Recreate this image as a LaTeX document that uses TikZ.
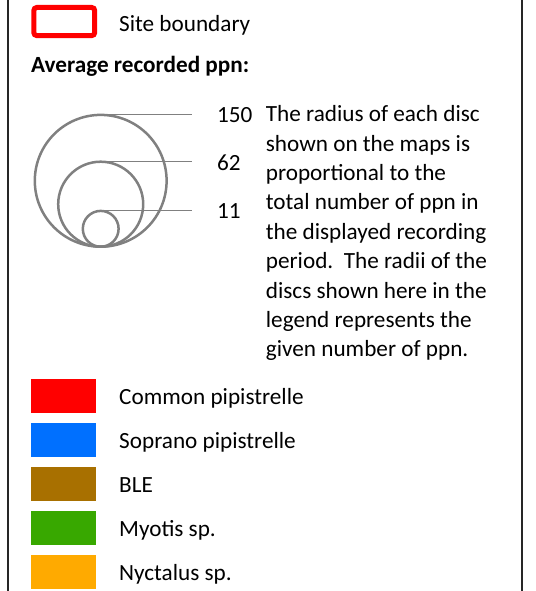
\documentclass[tikz,border=0pt]{standalone}
\usepackage{fontspec}
\setmainfont{Carlito}
\definecolor{spred}{RGB}{255,0,0}
\definecolor{spblue}{RGB}{0,112,255}
\definecolor{spbrown}{RGB}{168,112,0}
\definecolor{spgreen}{RGB}{56,168,0}
\definecolor{sporange}{RGB}{255,170,0}
\definecolor{discgray}{RGB}{128,128,128}
\begin{document}
\begin{tikzpicture}[x=1pt,y=-1pt,
  lbl/.style={anchor=base west,inner sep=0pt,font=\fontsize{23.2}{29.4}\selectfont},
  swatch/.style={minimum width=65pt,minimum height=33.7pt,inner sep=0pt,draw=none},
  disc/.style={draw=discgray,line width=2.5pt},
  leader/.style={draw=discgray,line width=1pt}]
\useasboundingbox (0,0) rectangle (535,591);
\draw[line width=1.3pt,black!85] (8,0) -- (8,591);
\draw[line width=1.3pt,black!85] (522,0) -- (522,591);
% site boundary
\draw[spred,line width=5pt,rounded corners=3pt] (33.8,7.5) rectangle (94.7,35.6);
\node[lbl] (sb) at (119,31.7) {Site boundary};
\node[lbl,font=\fontsize{23.2}{29.4}\selectfont\bfseries] (avg) at (31,72.7) {Average recorded ppn:};
% discs
\draw[disc] (100.7,180.8) circle (65.9);
\draw[disc] (100.7,204.2) circle (42.5);
\draw[disc] (100.7,228.8) circle (17.9);
\coordinate (t150) at (100.7,114.9);
\coordinate (t62) at (100.7,161.7);
\coordinate (t11) at (100.7,210.9);
\coordinate (e150) at (191.5,114.9);
\coordinate (e62) at (191.5,161.7);
\coordinate (e11) at (191.5,210.9);
\draw[leader] (t150) -- (e150);
\draw[leader] (t62) -- (e62);
\draw[leader] (t11) -- (e11);
\node[lbl] (n150) at (217,122) {150};
\node[lbl] (n62) at (217,170) {62};
\node[lbl] (n11) at (217,218) {11};
\node[anchor=north west,inner sep=0pt,align=left,font=\fontsize{23.2}{29.4}\selectfont] (para) at (265.7,105.3)
 {The radius of each disc\\shown on the maps is\\proportional to the\\total number of ppn in\\the displayed recording\\period.\ \ The radii of the\\discs shown here in the\\legend represents the\\given number of ppn.};
% species
\node[swatch,fill=spred,anchor=north west] (s1) at (31,379) {};
\node[swatch,fill=spblue,anchor=north west] (s2) at (31,423) {};
\node[swatch,fill=spbrown,anchor=north west] (s3) at (31,467) {};
\node[swatch,fill=spgreen,anchor=north west] (s4) at (31,511) {};
\node[swatch,fill=sporange,anchor=north west] (s5) at (31,555) {};
\node[lbl] (l1) at (119,404.3) {Common pipistrelle};
\node[lbl] (l2) at (119,448.3) {Soprano pipistrelle};
\node[lbl] (l3) at (119,492.3) {BLE};
\node[lbl] (l4) at (119,536.3) {Myotis sp.};
\node[lbl] (l5) at (119,580.3) {Nyctalus sp.};
\end{tikzpicture}
\end{document}
